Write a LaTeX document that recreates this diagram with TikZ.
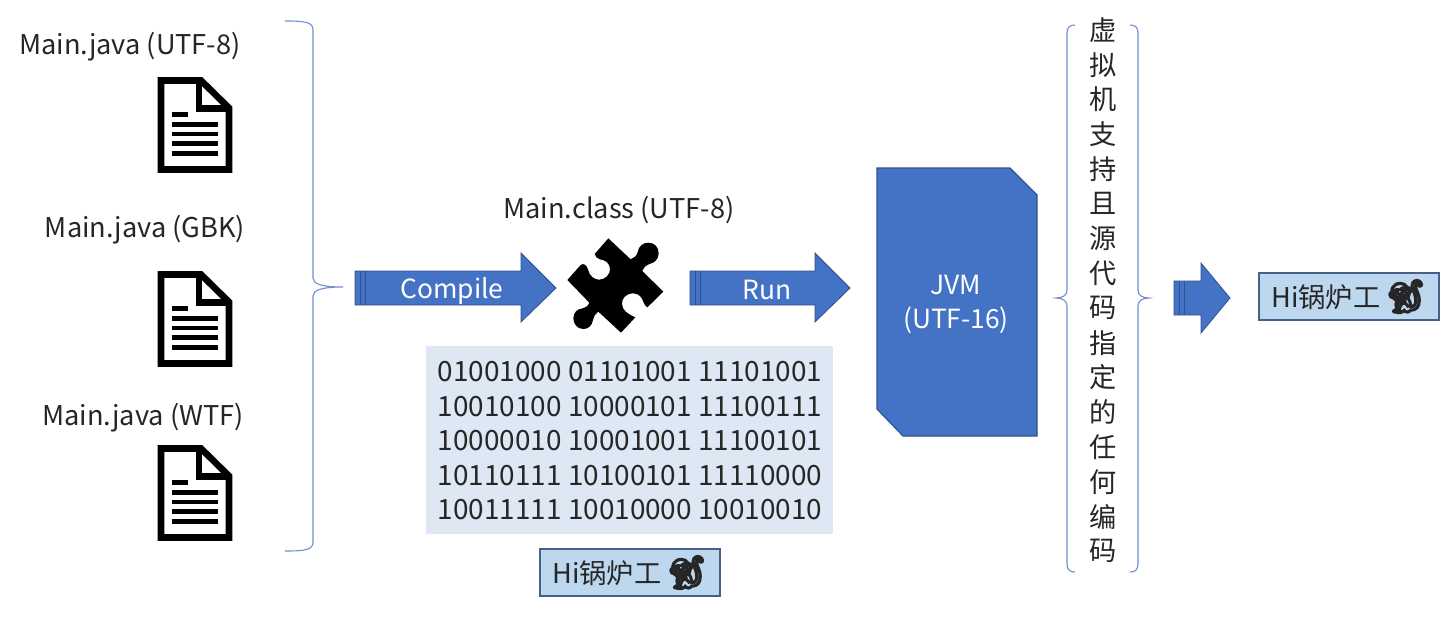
\documentclass[tikz,border=0pt]{standalone}
\usepackage{fontspec}
\setmainfont{Noto Sans CJK SC}
\newfontfamily\emojifont[AutoFakeBold=5.5]{Noto Emoji}
\definecolor{txt}{HTML}{262626}
\definecolor{blu}{HTML}{4472C4}
\definecolor{bluedge}{HTML}{2F528F}
\definecolor{pale}{HTML}{DEE8F5}
\definecolor{lbl}{HTML}{BDD7EE}
\definecolor{brace}{HTML}{6F8FCF}
\tikzset{
  x=0.5pt,y=-0.5pt,
  lab/.style={inner sep=0pt,text=txt,font=\fontsize{13.6}{16}\selectfont},
  wlab/.style={inner sep=0pt,text=white,align=center,font=\fontsize{13.2}{17}\selectfont},
  hibox/.style={draw=bluedge!70!gray,fill=lbl,line width=0.6pt,minimum width=90pt,minimum height=23.5pt,inner sep=0pt,text=txt,font=\fontsize{13.6}{16}\selectfont},
  arrowshape/.style={fill=blu,draw=bluedge,line width=0.4pt},
  bracestyle/.style={draw=brace,line width=0.55pt},
  docicon/.style={draw=black,line width=3.3pt,fill=white,miter limit=10}
}
\newcommand{\docshape}[1]{%
  \begin{scope}[shift={(0,#1)}]
    \draw[docicon] (161,80.5) -- (201,80.5) -- (229,108) -- (229,169.5) -- (161,169.5) -- cycle;
    \draw[draw=black,line width=3.3pt] (199,80) -- (199,108.5) -- (230,108.5);
    \fill[black] (172,112) rectangle (188,116.5);
    \fill[black] (172,122) rectangle (218,126.5);
    \fill[black] (172,131.5) rectangle (218,136);
    \fill[black] (172,141) rectangle (218,145.5);
    \fill[black] (172,151) rectangle (218,155.5);
  \end{scope}}
\newcommand{\monkey}{{\emojifont\bfseries\fontsize{16.5}{15}\selectfont\char"1F412}}
\begin{document}
\begin{tikzpicture}
\useasboundingbox (0,0) rectangle (1453,622);
\fill[white] (0,0) rectangle (1453,622);
% labels
\node[lab] (ju) at (130,47) {Main.java (UTF-8)};
\node[lab] (jg) at (145,230) {Main.java (GBK)};
\node[lab] (jw) at (143,418) {Main.java (WTF)};
\node[lab] (mc) at (619,210) {Main.class (UTF-8)};
% docs
\docshape{0}\docshape{194}\docshape{368}
% left brace
\draw[bracestyle] (285,21) .. controls (305,21) and (313,22) .. (313,30) -- (313,278) .. controls (313,284) and (322,287) .. (343,287) .. controls (322,287) and (313,290) .. (313,296) -- (313,542) .. controls (313,550) and (305,551) .. (285,551);
% arrows
\draw[arrowshape] (355,271) -- (521,271) -- (521,253) -- (556,288) -- (521,322) -- (521,305) -- (355,305) -- cycle;
\draw[bluedge,line width=0.4pt] (360,271) -- (360,305) (365,271) -- (365,305);
\node[wlab] (compile) at (452,291) {Compile};
\draw[arrowshape] (690,271) -- (815,271) -- (815,253) -- (850,288) -- (815,322) -- (815,305) -- (690,305) -- cycle;
\draw[bluedge,line width=0.4pt] (695,271) -- (695,305) (700,271) -- (700,305);
\node[wlab] (run) at (767,290) {Run};
\draw[arrowshape] (1174,281) -- (1201,281) -- (1201,263) -- (1230,298) -- (1201,333) -- (1201,315) -- (1174,315) -- cycle;
\draw[bluedge,line width=0.4pt] (1179,281) -- (1179,315) (1184,281) -- (1184,315);
% puzzle
\begin{scope}[shift={(560,230)},x=0.16667pt,y=-0.16667pt]
\fill[black] (145,25) -- (212,88) .. controls (222,84) and (230,78) .. (233,66) .. controls (236,48) and (250,38) .. (265,38) .. controls (284,38) and (296,52) .. (296,70) .. controls (296,88) and (282,100) .. (268,102) .. controls (258,104) and (252,112) .. (247,123) -- (310,185) -- (262,232) .. controls (254,228) and (250,215) .. (246,206) .. controls (240,194) and (228,190) .. (216,190) .. controls (198,192) and (185,205) .. (186,222) .. controls (187,240) and (200,250) .. (226,262) -- (183,308) -- (115,245) .. controls (106,252) and (100,260) .. (99,270) .. controls (96,288) and (84,297) .. (70,297) .. controls (52,297) and (40,282) .. (40,265) .. controls (40,248) and (52,236) .. (68,235) .. controls (76,234) and (84,228) .. (88,218) -- (22,150) -- (62,105) .. controls (70,98) and (80,105) .. (84,118) .. controls (88,138) and (102,149) .. (118,149) .. controls (136,148) and (150,134) .. (150,118) .. controls (150,100) and (136,90) .. (120,88) .. controls (112,86) and (106,80) .. (104,72) -- cycle;
\end{scope}
% binary
\fill[pale] (426,346) rectangle (833,534);
\node[lab,align=left,font=\fontsize{13.95}{17.25}\selectfont] (bin) at (630,441) {01001000 01101001 11101001\\10010100 10000101 11100111\\10000010 10001001 11100101\\10110111 10100101 11110000\\10011111 10010000 10010010};
% hi boxes
\node[hibox] (hia) at (630,572.5) {Hi锅炉工\,\monkey};
\node[hibox] (hib) at (1349,296.5) {Hi锅炉工\,\monkey};
% JVM
\draw[fill=blu,draw=bluedge,line width=0.6pt] (877,168) -- (1010,168) -- (1037,195) -- (1037,436) -- (903,436) -- (877,409) -- cycle;
\node[wlab] (jvm) at (956,304) {JVM\\(UTF-16)};
% right braces
\draw[bracestyle] (1075,25) .. controls (1070,25) and (1067,27) .. (1067,33) -- (1067,290) .. controls (1067,295) and (1063,298) .. (1056,298) .. controls (1063,298) and (1067,301) .. (1067,306) -- (1067,564) .. controls (1067,570) and (1070,572) .. (1075,572);
\draw[bracestyle] (1130,25) .. controls (1135,25) and (1138,27) .. (1138,33) -- (1138,290) .. controls (1138,295) and (1142,298) .. (1149,298) .. controls (1142,298) and (1138,301) .. (1138,306) -- (1138,564) .. controls (1138,570) and (1135,572) .. (1130,572);
% vertical text
\foreach \c [count=\i from 0] in {虚,拟,机,支,持,且,源,代,码,指,定,的,任,何,编,码}
  \node[lab] (v\i) at (1103,{30+34.75*\i}) {\c};
\end{tikzpicture}
\end{document}
